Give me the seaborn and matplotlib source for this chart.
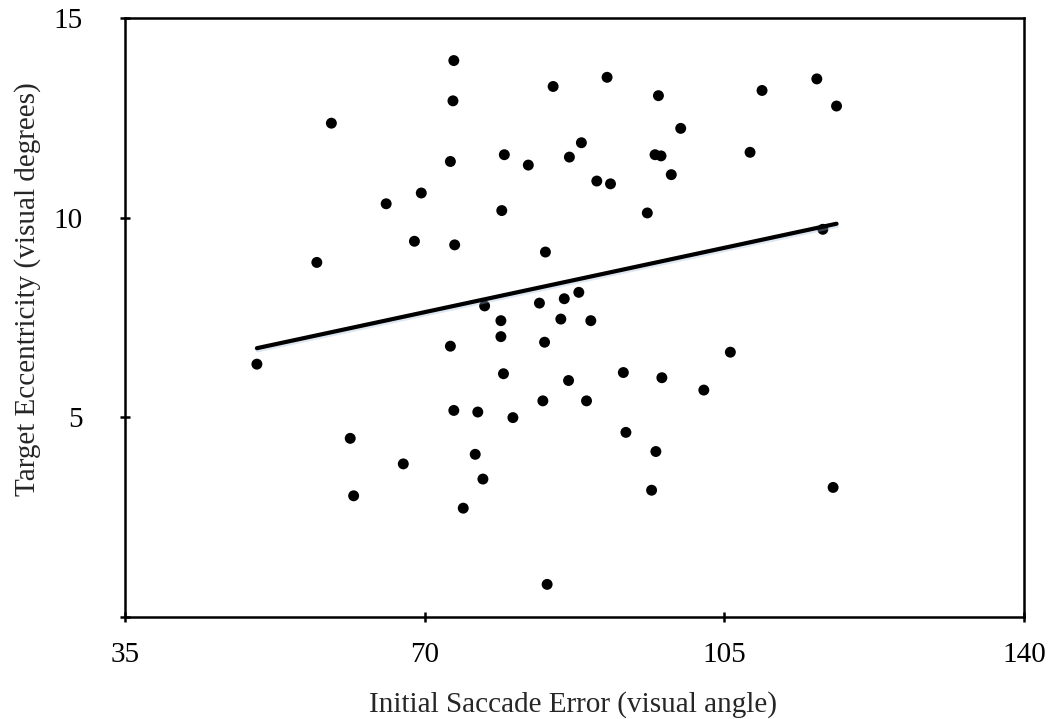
import numpy as np
import pandas as pd
import matplotlib
matplotlib.use("Agg")
import matplotlib.pyplot as plt
import matplotlib.patheffects as pe
import seaborn as sns

# values
saccade_error = [50.4, 57.4, 59.1, 61.3, 61.7, 65.5, 67.5, 68.8, 69.6, 73.0,
                 73.0, 73.4, 73.3, 73.5, 73.4, 74.5, 75.9, 76.2, 76.8, 77.0,
                 79.3, 79.0, 78.9, 78.9, 79.2, 80.3, 82.1, 83.4, 83.8, 84.1,
                 84.0, 84.3, 85.0, 85.9, 86.3, 86.9, 86.8, 88.0, 88.3, 88.9,
                 89.4, 90.1, 91.3, 91.7, 93.2, 93.5, 96.0, 96.5, 96.9, 97.0,
                 97.3, 97.6, 97.7, 98.8, 99.9, 102.6, 105.7, 108.0, 109.4, 115.8,
                 116.5, 117.7, 118.1]
eccentricity = [6.33, 8.88, 12.37, 4.47, 3.03, 10.35, 3.83, 9.41, 10.62, 11.41,
                6.78, 13.94, 12.93, 9.32, 5.17, 2.72, 4.07, 5.13, 3.45, 7.79,
                11.58, 10.18, 7.42, 7.02, 6.09, 4.99, 11.32, 7.86, 5.41, 9.14,
                6.88, 0.81, 13.29, 7.46, 7.97, 11.52, 5.92, 8.13, 11.88, 5.41,
                7.42, 10.92, 13.52, 10.85, 6.12, 4.62, 10.12, 3.17, 11.58, 4.14,
                13.06, 11.55, 5.99, 11.08, 12.24, 5.68, 6.63, 11.64, 13.19, 13.48,
                9.71, 3.24, 12.8]

# linear trend line (end points)
trend_x = [50.4, 118.1]
trend_y = [6.73, 9.85]

x_ticks = [35, 70, 105, 140]
y_ticks = [0, 5, 10, 15]
y_tick_labels = ["", "5", "10", "15"]

df = pd.DataFrame({"err": saccade_error, "ecc": eccentricity})
trend = pd.DataFrame({"x": trend_x, "y": trend_y})

sns.set_style("white")
plt.rcParams["font.family"] = ["Liberation Serif", "DejaVu Serif"]

fig = plt.figure(figsize=(10.49, 7.19), dpi=100)
ax = fig.add_axes([0.1192, 0.1423, 0.857, 0.8323])

sns.scatterplot(data=df, x="err", y="ecc", ax=ax, color="black", s=62,
                edgecolor="none", zorder=3)
sns.lineplot(data=trend, x="x", y="y", ax=ax, color="black", linewidth=3,
             zorder=4,
             path_effects=[pe.SimpleLineShadow(offset=(0.5, -1.5),
                                               shadow_color="#9fb8d8", alpha=0.35),
                           pe.Normal()])

ax.set_xlim(35, 140)
ax.set_ylim(0, 15)
ax.set_xticks(x_ticks)
ax.set_yticks(y_ticks)
ax.set_yticklabels(y_tick_labels)

for s in ax.spines.values():
    s.set_visible(True)
    s.set_color("black")
    s.set_linewidth(1.8)

fs = 21
ax.tick_params(axis="x", direction="inout", length=7, width=1.8, pad=15,
               labelsize=fs, colors="black", bottom=True, top=False)
ax.tick_params(axis="y", direction="inout", length=7, width=1.8, pad=27,
               labelsize=fs, colors="black", left=True, right=False)

ax.set_xlabel("Initial Saccade Error (visual angle)", fontsize=fs)
ax.set_ylabel("Target Eccentricity (visual degrees)", fontsize=fs)
ax.xaxis.set_label_coords(0.498, -0.124)
ax.yaxis.set_label_coords(-0.094, 0.548)

fig.savefig("out.png", dpi=100, facecolor="white")
